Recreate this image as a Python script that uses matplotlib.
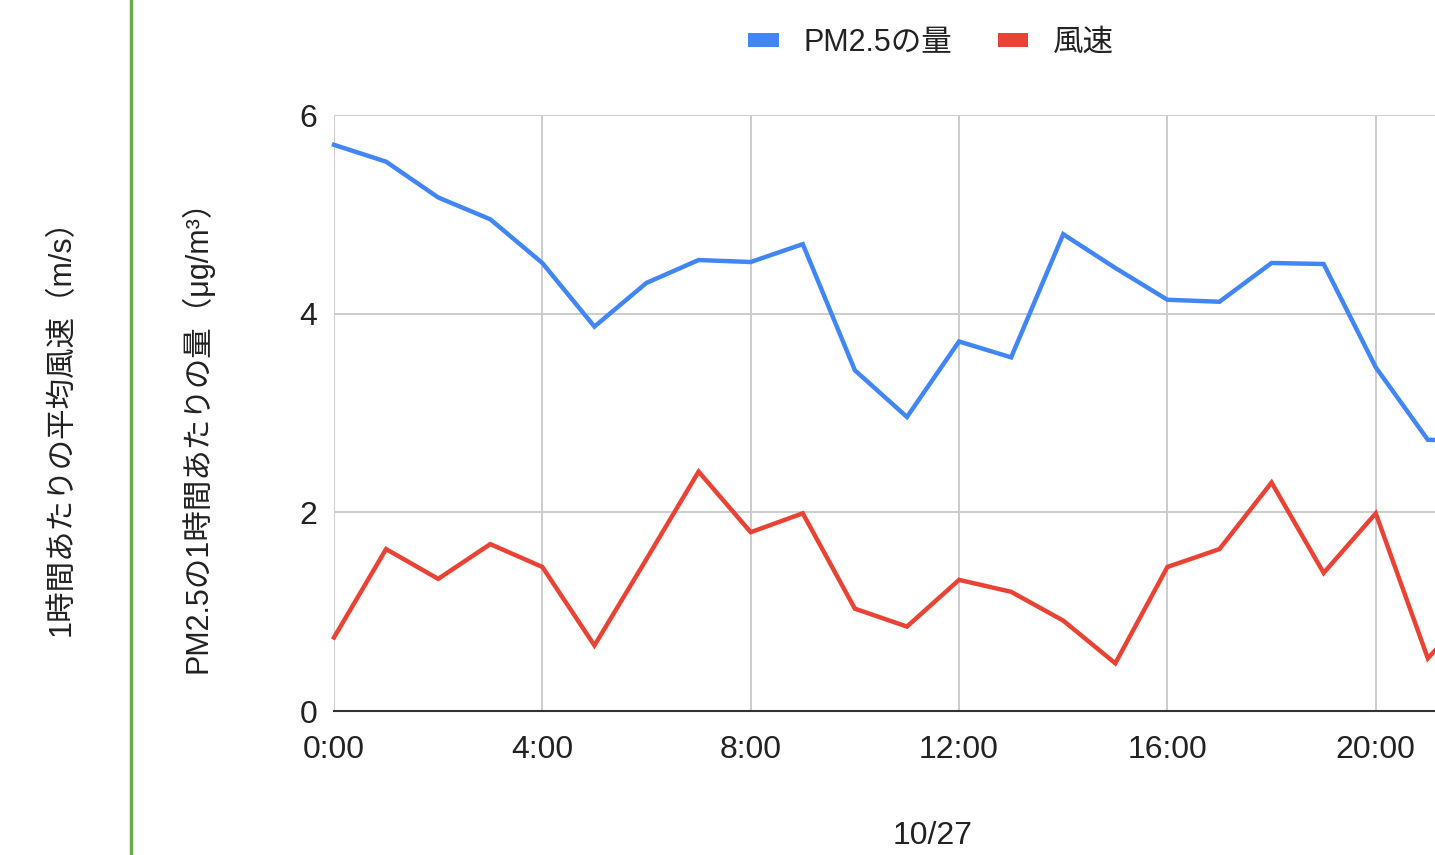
import matplotlib
matplotlib.use("Agg")
import matplotlib.pyplot as plt
from matplotlib.patches import Patch
from matplotlib.lines import Line2D

plt.rcParams['font.family'] = ['Liberation Sans', 'Noto Sans CJK JP', 'DejaVu Sans']

# Hourly readings for 10/27
hours = list(range(0, 23))
pm25 = [5.70, 5.53, 5.17, 4.95, 4.51, 3.87, 4.31, 4.54, 4.52, 4.70,
        3.43, 2.96, 3.72, 3.56, 4.80, 4.46, 4.14, 4.12, 4.51, 4.50,
        3.46, 2.73, 2.72]
wind = [0.74, 1.63, 1.33, 1.68, 1.45, 0.66, 1.53, 2.41, 1.80, 1.99,
        1.03, 0.85, 1.32, 1.20, 0.91, 0.48, 1.45, 1.63, 2.30, 1.39,
        1.99, 0.53, 1.10]

xticks = [0, 4, 8, 12, 16, 20]
xtick_labels = ["0:00", "4:00", "8:00", "12:00", "16:00", "20:00"]
yticks = [0, 2, 4, 6]

series_names = ["PM2.5の量", "風速"]
series_colors = ["#4285f4", "#ea4335"]
date_label = "10/27"
ylabel_left = "PM2.5の1時間あたりの量（μg/m³）"
ylabel_right = "1時間あたりの平均風速（m/s）"

W, H = 1435, 855
fig = plt.figure(figsize=(W / 100, H / 100), dpi=100)
fig.patch.set_facecolor("white")

# plot area: x from 334px to 1532px (extends past the right edge), y from 115px to 711px
left, right, top, bottom = 334, 1532, 115, 711
ax = fig.add_axes([left / W, 1 - bottom / H, (right - left) / W, (bottom - top) / H])
ax.set_xlim(0, 23)
ax.set_ylim(0, 6)

ax.plot(hours, pm25, color=series_colors[0], lw=3.2, solid_joinstyle="miter", zorder=3, clip_on=False)
ax.plot(hours, wind, color=series_colors[1], lw=3.2, solid_joinstyle="miter", zorder=3, clip_on=False)

ax.set_xticks(xticks)
ax.set_xticklabels(xtick_labels)
ax.set_yticks(yticks)
ax.grid(True, color="#cccccc", lw=1.4, zorder=0)
ax.set_axisbelow(True)
for s in ["left", "right", "top"]:
    ax.spines[s].set_visible(False)
ax.spines["bottom"].set_color("#333333")
ax.spines["bottom"].set_linewidth(1.5)
ax.spines["bottom"].set_zorder(4)
ax.tick_params(axis="both", length=0, labelsize=23, colors="#222222")
ax.tick_params(axis="y", pad=12)
ax.tick_params(axis="x", pad=17)

# axis titles
fig.text(197 / W, 1 - 429 / H, ylabel_left, rotation=90, ha="center", va="center",
         fontsize=22, color="#222222")
fig.text(62 / W, 1 - 420 / H, ylabel_right, rotation=90, ha="center", va="center",
         fontsize=22, color="#222222")
fig.text(933 / W, 1 - 836 / H, date_label, ha="center", va="center",
         fontsize=23, color="#222222")

# green divider
fig.add_artist(Line2D([131 / W, 131 / W], [0, 1], color="#6aa84f", lw=2.5,
                      transform=fig.transFigure))

handles = [Patch(facecolor=c, edgecolor="none") for c in series_colors]
fig.legend(handles, series_names, loc="center", bbox_to_anchor=(931 / W, 1 - 43 / H),
           ncol=2, frameon=False, fontsize=22, handlelength=1.0, handleheight=0.33,
           handletextpad=0.8, columnspacing=1.5, labelcolor="#222222")

fig.savefig("out.png", dpi=100, facecolor="white")
